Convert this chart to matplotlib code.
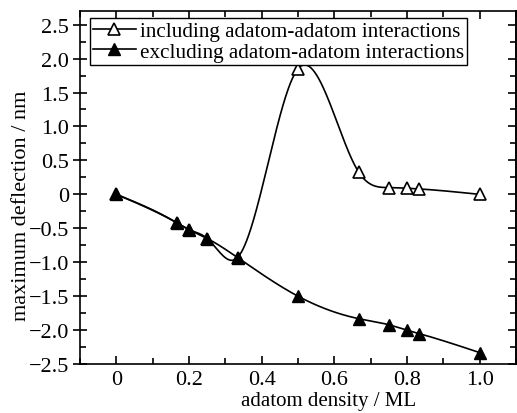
import matplotlib
matplotlib.use("Agg")
import matplotlib.pyplot as plt
import numpy as np
from matplotlib.ticker import MultipleLocator, FuncFormatter

# adatom density (ML)
density = [0, 1/6, 0.2, 0.25, 1/3, 0.5, 2/3, 0.75, 0.8, 5/6, 1.0]
# maximum deflection (nm)
incl = [0, -0.42, -0.52, -0.65, -0.93, 1.85, 0.33, 0.10, 0.09, 0.08, 0.0]
excl = [0, -0.42, -0.52, -0.65, -0.93, -1.50, -1.83, -1.92, -2.00, -2.05, -2.33]

labels = ["including adatom-adatom interactions",
          "excluding adatom-adatom interactions"]


def spline(x, y, n=400):
    # natural cubic spline through the points, only for the connecting line
    x = np.asarray(x, float)
    y = np.asarray(y, float)
    m = len(x)
    h = np.diff(x)
    A = np.zeros((m, m))
    b = np.zeros(m)
    A[0, 0] = A[-1, -1] = 1
    for i in range(1, m - 1):
        A[i, i - 1] = h[i - 1]
        A[i, i] = 2 * (h[i - 1] + h[i])
        A[i, i + 1] = h[i]
        b[i] = 6 * ((y[i + 1] - y[i]) / h[i] - (y[i] - y[i - 1]) / h[i - 1])
    M = np.linalg.solve(A, b)
    xs = np.linspace(x[0], x[-1], n)
    k = np.clip(np.searchsorted(x, xs) - 1, 0, m - 2)
    t0 = x[k + 1] - xs
    t1 = xs - x[k]
    hk = h[k]
    ys = (M[k] * t0**3 + M[k + 1] * t1**3) / (6 * hk) \
        + (y[k] / hk - M[k] * hk / 6) * t0 + (y[k + 1] / hk - M[k + 1] * hk / 6) * t1
    return xs, ys


plt.rcParams.update({'font.family': 'Liberation Serif', 'font.size': 16,
                     'axes.unicode_minus': True})

fig = plt.figure(figsize=(5.17, 4.14), dpi=100)
ax = fig.add_axes([0.155, 0.118, 0.843, 0.853])

xs, ys = spline(density, incl)
ax.plot(xs, ys, color="black", lw=1.2)
ax.plot(density, incl, ls="none", marker="^", ms=8, mfc="white", mec="black", mew=1.2)
xs, ys = spline(density, excl)
ax.plot(xs, ys, color="black", lw=1.2)
ax.plot(density, excl, ls="none", marker="^", ms=8, color="black")

# legend handles
h1, = ax.plot([], [], color="black", lw=1.2, marker="^", ms=8, mfc="white", mec="black", mew=1.2)
h2, = ax.plot([], [], color="black", lw=1.2, marker="^", ms=8)
leg = ax.legend([h1, h2], labels, loc="upper left", bbox_to_anchor=(0.023, 0.98),
                frameon=True, fancybox=False, framealpha=1, edgecolor="black",
                handlelength=2.0, handletextpad=0.2, borderpad=0.15,
                labelspacing=0.05, borderaxespad=0.0, fontsize=15.2)
leg.get_frame().set_linewidth(1.0)

ax.set_xlim(-0.1, 1.1)
ax.set_ylim(-2.5, 2.7)
ax.xaxis.set_major_locator(MultipleLocator(0.2))
ax.xaxis.set_minor_locator(MultipleLocator(0.1))
ax.yaxis.set_major_locator(MultipleLocator(0.5))
ax.yaxis.set_minor_locator(MultipleLocator(0.25))


def fmt(v, pos):
    if abs(v) < 1e-9:
        return "0"
    return ("%.1f" % v).replace("-", "\u2212")


ax.xaxis.set_major_formatter(FuncFormatter(fmt))
ax.yaxis.set_major_formatter(FuncFormatter(fmt))
ax.tick_params(which="both", direction="in", top=True, right=False, width=1.2,
               labelsize=16)
ax.tick_params(which="major", length=6)
ax.tick_params(which="minor", length=4)
ax.tick_params(axis="y", which="major", direction="inout", length=10, pad=3)
ax.tick_params(axis="x", which="major", pad=4)

# right side ticks point inward only
sec = ax.secondary_yaxis("right")
sec.yaxis.set_major_locator(MultipleLocator(0.5))
sec.yaxis.set_minor_locator(MultipleLocator(0.25))
sec.tick_params(which="both", direction="in", width=1.2, labelright=False)
sec.tick_params(which="major", length=6)
sec.tick_params(which="minor", length=4)
sec.spines["right"].set_linewidth(1.2)
for s in ax.spines.values():
    s.set_linewidth(1.2)

ax.set_xlabel("adatom density / ML", fontsize=15)
ax.set_ylabel("maximum deflection / nm", fontsize=16)
ax.xaxis.set_label_coords(0.57, -0.075)
ax.yaxis.set_label_coords(-0.113, 0.45)

fig.savefig("out.png", dpi=100)
